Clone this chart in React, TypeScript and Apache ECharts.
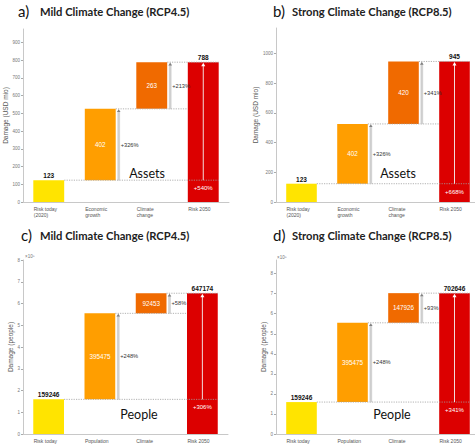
import React, { useEffect, useRef } from 'react';
import * as echarts from 'echarts';

const assetCategories = ['Risk today\n(2020)', 'Economic\ngrowth', 'Climate\nchange', 'Risk 2050'];
const peopleCategories = ['Risk today', 'Population', 'Climate', 'Risk 2050'];

const assetsMild = [123, 402, 263, 788];
const assetsStrong = [123, 402, 420, 945];
const peopleMild = [159246, 395475, 92453, 647174];
const peopleStrong = [159246, 395475, 147926, 702646];

const pctAssetsMild = ['+326%', '+213%', '+540%'];
const pctAssetsStrong = ['+326%', '+341%', '+668%'];
const pctPeopleMild = ['+248%', '+58%', '+306%'];
const pctPeopleStrong = ['+248%', '+93%', '+341%'];

const ticksAssetsMild = [0, 100, 200, 300, 400, 500, 600, 700, 800, 900];
const ticksAssetsStrong = [0, 200, 400, 600, 800, 1000];
const ticksPeople = [0, 100000, 200000, 300000, 400000, 500000, 600000, 700000, 800000];

const barColors = ['#FFE400', '#FF9E00', '#F06A00', '#DC0000'];

const FONT = '"Liberation Sans", Arial, sans-serif';
const TFONT = 'Lato, "Open Sans", sans-serif';

const panels = [
  {
    letter: 'a)', title: 'Mild Climate Change (RCP4.5)', cats: assetCategories, values: assetsMild,
    pct: pctAssetsMild, ticks: ticksAssetsMild, max: 975, yName: 'Damage (USD mio)', nameGap: 8,
    grid: { left: 23, top: 29, width: 206, height: 173 }, tag: 'Assets', tagPos: [147, 173],
    letterPos: [18, 11], titlePos: [40, 11], div: 1,
  },
  {
    letter: 'b)', title: 'Strong Climate Change (RCP8.5)', cats: assetCategories, values: assetsStrong,
    pct: pctAssetsStrong, ticks: ticksAssetsStrong, max: 1170, yName: 'Damage (USD mio)', nameGap: 12,
    grid: { left: 276, top: 28, width: 204, height: 174 }, tag: 'Assets', tagPos: [398, 173],
    letterPos: [273, 11], titlePos: [292, 11], div: 1,
  },
  {
    letter: 'c)', title: 'Mild Climate Change (RCP4.5)', cats: peopleCategories, values: peopleMild,
    pct: pctPeopleMild, ticks: ticksPeople, max: 800000, yName: 'Damage (people)', nameGap: 4,
    grid: { left: 23, top: 260, width: 205, height: 174 }, tag: 'People', tagPos: [139, 414],
    letterPos: [21, 235], titlePos: [40, 235], div: 100000, exp: [25, 256],
  },
  {
    letter: 'd)', title: 'Strong Climate Change (RCP8.5)', cats: peopleCategories, values: peopleStrong,
    pct: pctPeopleStrong, ticks: ticksPeople, max: 868000, yName: 'Damage (people)', nameGap: 5,
    grid: { left: 276, top: 260, width: 204, height: 174 }, tag: 'People', tagPos: [392, 414],
    letterPos: [273, 235], titlePos: [292, 235], div: 100000, exp: [277, 257],
  },
];

function buildOption() {
  const grid: any[] = [];
  const xAxis: any[] = [];
  const yAxis: any[] = [];
  const series: any[] = [];
  const graphic: any[] = [];

  panels.forEach((p, k) => {
    grid.push({ ...p.grid, outerBoundsMode: 'none' });
    xAxis.push({
      type: 'category', gridIndex: k, data: p.cats,
      axisLine: { lineStyle: { color: '#c8c8c8', width: 1 } },
      axisTick: { show: false },
      axisLabel: {
        interval: 0, fontSize: 5, color: '#555', fontFamily: FONT, align: 'left',
        padding: [0, 0, 0, -15], margin: 3.5, lineHeight: 6.5,
      },
    });
    yAxis.push({
      type: 'value', gridIndex: k, min: 0, max: p.max,
      axisLine: { show: true, lineStyle: { color: '#c8c8c8', width: 1 } },
      axisTick: { show: true, length: 2, lineStyle: { color: '#aaa' }, customValues: p.ticks },
      axisLabel: {
        customValues: p.ticks, fontSize: 4.5, color: '#777', fontFamily: FONT, margin: 3,
        formatter: (v: number) => String(Math.round((v / p.div) * 100) / 100),
      },
      splitLine: { show: false },
      name: p.yName, nameLocation: 'middle', nameGap: p.nameGap,
      nameTextStyle: { fontSize: 6.5, color: '#555', fontFamily: FONT },
    });

    const v = p.values;
    const levels = [v[0], v[0] + v[1], v[0] + v[1] + v[2]];
    const bases = [0, levels[0], levels[1], 0];

    series.push({
      type: 'bar', name: 'base' + k, xAxisIndex: k, yAxisIndex: k, stack: 'w' + k,
      data: bases, itemStyle: { color: 'transparent' }, barWidth: '60%', silent: true, z: 2,
    });
    series.push({
      type: 'bar', name: 'delta' + k, xAxisIndex: k, yAxisIndex: k, stack: 'w' + k,
      barWidth: '60%', z: 2,
      data: v.map((val, i) => ({
        value: val,
        itemStyle: { color: barColors[i] },
        label: (i === 0 || i === 3)
          ? { show: true, position: 'top', distance: 1.2, color: '#111', fontWeight: 'bold', fontSize: 6.5, fontFamily: FONT, formatter: String(val) }
          : { show: true, position: 'inside', color: '#fff', fontSize: 6.3, fontFamily: FONT, formatter: String(val) },
      })),
    });
    // connectors: [fromIdx, toIdx, level, side]
    series.push({
      type: 'custom', name: 'conn' + k, xAxisIndex: k, yAxisIndex: k, z: 3, silent: true,
      data: [[0, 3, levels[0], 1], [1, 3, levels[1], -1], [2, 3, levels[2], 1]],
      renderItem: (params: any, api: any) => {
        const from = api.value(0), to = api.value(1), level = api.value(2), side = api.value(3);
        const p1 = api.coord([from, level]);
        const p2 = api.coord([to, level]);
        const half = api.size([1, 0])[0] * 0.3;
        return {
          type: 'line',
          shape: { x1: p1[0] + half, y1: p1[1], x2: p2[0] + side * half, y2: p2[1] },
          style: { stroke: '#a0a0a0', lineWidth: 0.8, lineDash: [1.2, 1.2] },
        };
      },
    });
    // arrows: [idx, from, to, kind]
    series.push({
      type: 'custom', name: 'arrow' + k, xAxisIndex: k, yAxisIndex: k, z: 4, silent: true,
      data: [[1, levels[0], levels[1], 0], [2, levels[1], levels[2], 0], [3, levels[0], levels[2], 1]],
      renderItem: (params: any, api: any) => {
        const idx = api.value(0), y0 = api.value(1), y1 = api.value(2), kind = api.value(3);
        const pb = api.coord([idx, y0]);
        const pt = api.coord([idx, y1]);
        const half = api.size([1, 0])[0] * 0.3;
        const label = p.pct[params.dataIndex];
        if (kind === 0) {
          const x = pb[0] + half + 3;
          return {
            type: 'group',
            children: [
              { type: 'rect', shape: { x: x - 1, y: pt[1] + 2.5, width: 2, height: pb[1] - pt[1] - 2.5 }, style: { fill: '#d2d2d2', stroke: '#b5b5b5', lineWidth: 0.3 } },
              { type: 'polygon', shape: { points: [[x - 1.8, pt[1] + 3.2], [x + 1.8, pt[1] + 3.2], [x, pt[1] + 0.4]] }, style: { fill: '#808080' } },
              { type: 'text', style: { text: label, x: x + 2, y: (pb[1] + pt[1]) / 2, verticalAlign: 'middle', align: 'left', fontSize: 5.7, fill: '#333', fontFamily: FONT } },
            ],
          };
        }
        const x = pb[0];
        return {
          type: 'group',
          children: [
            { type: 'line', shape: { x1: x, y1: pb[1], x2: x, y2: pt[1] + 3 }, style: { stroke: '#f4f4f4', lineWidth: 0.9 } },
            { type: 'polygon', shape: { points: [[x - 2, pt[1] + 4], [x + 2, pt[1] + 4], [x, pt[1] + 0.5]] }, style: { fill: '#ffffff' } },
            { type: 'text', style: { text: label, x: x, y: pb[1] + 8, verticalAlign: 'middle', align: 'center', fontSize: 6, fill: '#fff', fontFamily: FONT } },
          ],
        };
      },
    });

    graphic.push({
      type: 'text', x: p.letterPos[0], y: p.letterPos[1],
      style: { text: p.letter, align: 'left', verticalAlign: 'middle', fontSize: 15, fontFamily: TFONT, fill: '#111' },
    });
    graphic.push({
      type: 'text', x: p.titlePos[0], y: p.titlePos[1],
      style: { text: p.title, align: 'left', verticalAlign: 'middle', fontSize: 11.2, fontWeight: 'bold', fontFamily: TFONT, fill: '#222' },
    });
    graphic.push({
      type: 'text', x: p.tagPos[0], y: p.tagPos[1], z: 10,
      style: { text: p.tag, align: 'center', verticalAlign: 'middle', fontSize: 12.5, fontFamily: TFONT, fill: '#111' },
    });
    if (p.exp) {
      graphic.push({
        type: 'text', x: p.exp[0], y: p.exp[1],
        style: { text: '×10⁵', align: 'left', verticalAlign: 'middle', fontSize: 4.5, fontFamily: FONT, fill: '#777' },
      });
    }
  });

  return { animation: false, backgroundColor: '#ffffff', grid, xAxis, yAxis, series, graphic };
}

export default function App() {
  const ref = useRef<HTMLDivElement>(null);
  useEffect(() => {
    if (!ref.current) return;
    const chart = echarts.init(ref.current, undefined, { renderer: 'svg' });
    chart.setOption(buildOption() as any);
    return () => chart.dispose();
  }, []);
  return <div ref={ref} style={{ position: 'fixed', left: 0, top: 0, width: 475, height: 444 }} />;
}
